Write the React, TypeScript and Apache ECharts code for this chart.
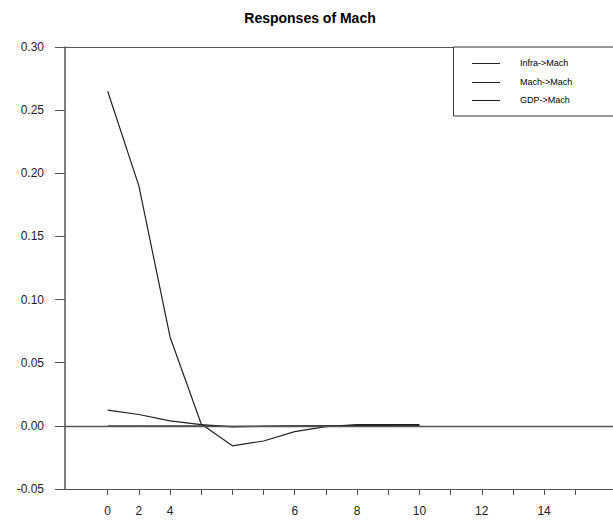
import React, { useEffect, useRef } from "react";
import * as echarts from "echarts";

const seriesNames = ["Infra->Mach", "Mach->Mach", "GDP->Mach"];
const periods = [0, 1, 2, 3, 4, 5, 6, 7, 8, 9, 10];
const infraMach = [0.0125, 0.009, 0.004, 0.001, -0.0008, -0.0004, -0.0002, 0.0, 0.0002, 0.0002, 0.0001];
const machMach = [0.265, 0.19, 0.0704, 0.0015, -0.0158, -0.012, -0.0046, -0.0006, 0.001, 0.001, 0.001];
const gdpMach = [0.0, 0.0, 0.0, 0.0, -0.0003, -0.0002, 0.0, 0.0, 0.0004, 0.0004, 0.0003];
const xTickPositions = [0, 1, 2, 3, 4, 5, 6, 7, 8, 9, 10, 11, 12, 13, 14, 15];
const xTickLabels = ["0", "2", "4", "", "", "", "6", "", "8", "", "10", "", "12", "", "14", ""];
const titleText = "Responses of Mach";

const FONT = "'Liberation Sans', Arial, Helvetica, sans-serif";

export default function App() {
  const ref = useRef<HTMLDivElement>(null);
  useEffect(() => {
    if (!ref.current) return;
    const chart = echarts.init(ref.current, undefined, { renderer: "svg" });
    const pairs = (vals: number[]) => periods.map((p, i) => [p, vals[i]]);
    const lineColor = "#222";
    const axisColor = "#555";
    const legendRows = [63, 82, 100];
    const legendGraphics: any[] = [];
    seriesNames.forEach((n, i) => {
      legendGraphics.push({
        type: "line",
        shape: { x1: 472, y1: legendRows[i] + 0.5, x2: 500, y2: legendRows[i] + 0.5 },
        style: { stroke: lineColor, lineWidth: 1 },
        z: 60,
      });
      legendGraphics.push({
        type: "text",
        x: 520,
        y: legendRows[i],
        style: {
          text: n,
          fontSize: 9,
          fontFamily: FONT,
          fill: "#000",
          textAlign: "left",
          textVerticalAlign: "middle",
        },
        z: 60,
      });
    });
    chart.setOption({
      animation: false,
      backgroundColor: "#fff",
      textStyle: { fontFamily: FONT },
      grid: { left: 65, right: 0, top: 47, bottom: 35, containLabel: false },
      graphic: [
        {
          type: "text",
          x: 310,
          y: 18,
          style: {
            text: titleText,
            fontSize: 14,
            fontWeight: "bold",
            fontFamily: FONT,
            fill: "#000",
            textAlign: "center",
            textVerticalAlign: "middle",
          },
        },
        {
          type: "rect",
          shape: { x: 453.5, y: 47, width: 200, height: 69 },
          style: { fill: "#fff", stroke: "#333", lineWidth: 1 },
          z: 50,
        },
        ...legendGraphics,
      ],
      xAxis: [
        {
          type: "value",
          min: -1.37,
          max: 16.21,
          splitLine: { show: false },
          axisLine: { show: true, onZero: false, lineStyle: { color: axisColor, width: 1 } },
          axisTick: { show: true, inside: false, length: 6, customValues: xTickPositions, lineStyle: { color: axisColor } },
          axisLabel: {
            show: true,
            customValues: xTickPositions,
            margin: 16,
            fontSize: 12,
            color: "#222",
            fontFamily: FONT,
            formatter: (v: number) => xTickLabels[Math.round(v)] ?? "",
          },
        },
        {
          type: "value",
          position: "top",
          min: -1.37,
          max: 16.21,
          splitLine: { show: false },
          axisLine: { show: true, onZero: false, lineStyle: { color: axisColor, width: 1 } },
          axisTick: { show: false },
          axisLabel: { show: false },
        },
      ],
      yAxis: {
        type: "value",
        min: -0.05,
        max: 0.3,
        interval: 0.05,
        splitLine: { show: false },
        axisLine: { show: true, onZero: false, lineStyle: { color: axisColor, width: 1.5 } },
        axisTick: { show: true, inside: false, length: 10, lineStyle: { color: axisColor } },
        axisLabel: {
          margin: 21,
          fontSize: 12,
          color: "#222",
          fontFamily: FONT,
          formatter: (v: number) => v.toFixed(2),
        },
      },
      series: [
        {
          name: seriesNames[0],
          type: "line",
          data: pairs(infraMach),
          symbol: "none",
          lineStyle: { color: lineColor, width: 1.2 },
          itemStyle: { color: lineColor },
        },
        {
          name: seriesNames[1],
          type: "line",
          data: pairs(machMach),
          symbol: "none",
          lineStyle: { color: lineColor, width: 1.2 },
          itemStyle: { color: lineColor },
        },
        {
          name: seriesNames[2],
          type: "line",
          data: pairs(gdpMach),
          symbol: "none",
          lineStyle: { color: lineColor, width: 1 },
          itemStyle: { color: lineColor },
          markLine: {
            silent: true,
            z: 10,
            symbol: ["none", "none"],
            label: { show: false },
            lineStyle: { color: axisColor, type: "solid", width: 1.3 },
            data: [{ yAxis: 0 }],
          },
        },
      ],
    });
    return () => chart.dispose();
  }, []);
  return <div ref={ref} style={{ position: "fixed", left: 0, top: 0, width: 613, height: 524 }} />;
}
